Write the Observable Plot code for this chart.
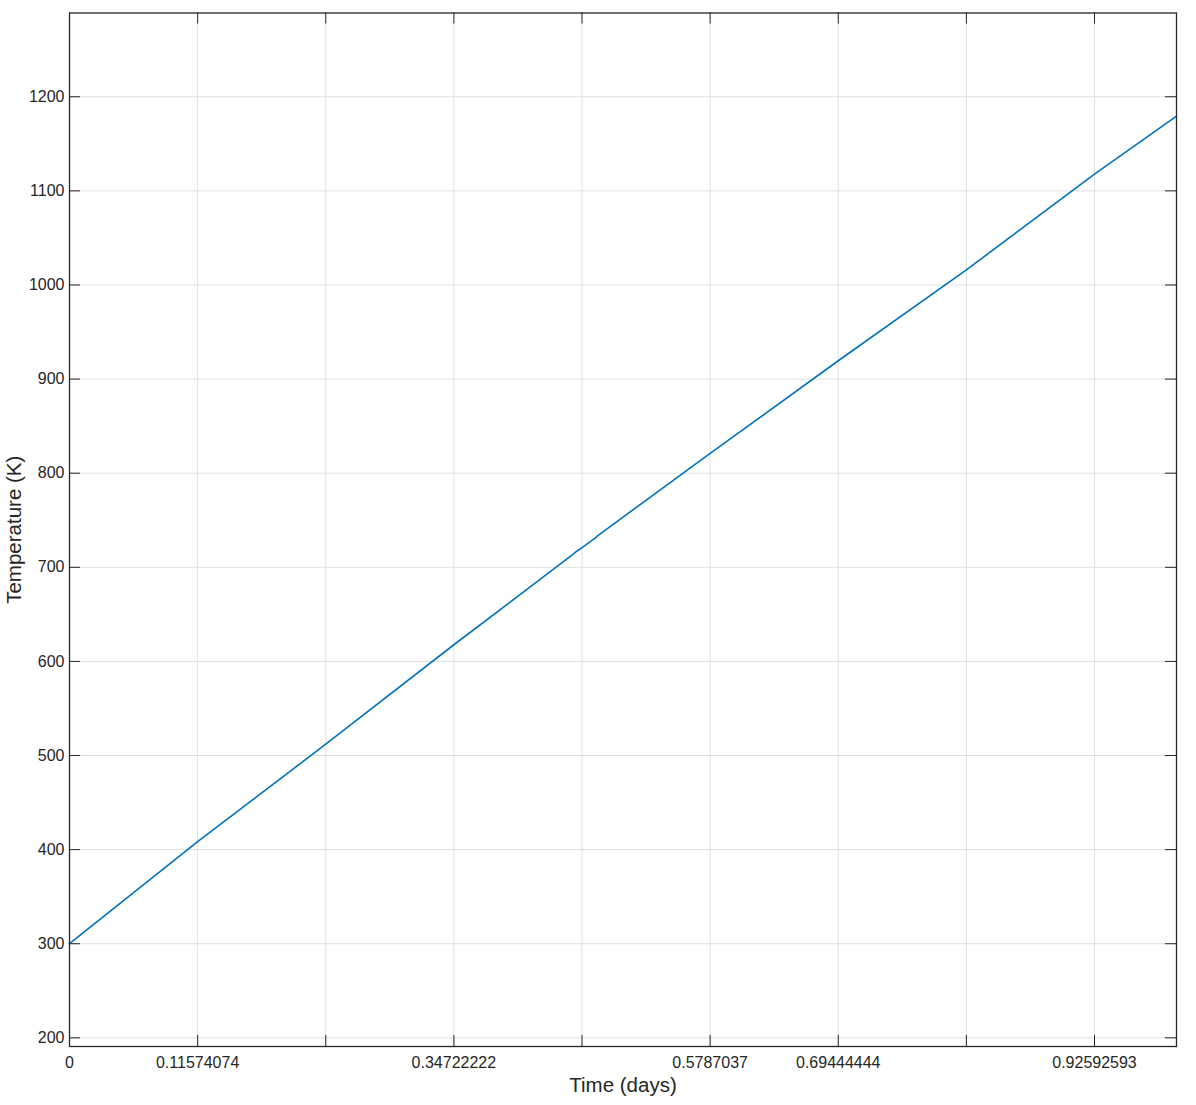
<!DOCTYPE html>
<html>
<head>
<meta charset="utf-8">
<script src="https://cdn.jsdelivr.net/npm/d3@7"></script>
<script src="https://cdn.jsdelivr.net/npm/@observablehq/plot@0.6"></script>
<style>
  html, body { margin: 0; padding: 0; background: #fff; }
  #chart svg { display: block; }
</style>
</head>
<body>
<div id="chart"></div>
<script>
// Time (days) and temperature (K)
const timeDays = [0, 0.11574074, 0.23148148, 0.34722222, 0.4562, 0.4575, 0.4630, 0.4760, 0.4770, 0.5787037, 0.69444444, 0.81018519, 0.92592593, 1.0];
const temperatureK = [300, 408.5, 512, 617.7, 715, 716.5, 721, 732, 733.5, 821, 919.5, 1016, 1117.7, 1179.5];

// Axis ticks
const xTicks = [0, 0.11574074, 0.23148148, 0.34722222, 0.46296296, 0.5787037, 0.69444444, 0.81018519, 0.92592593];
const xTickLabels = ["0", "0.11574074", "", "0.34722222", "", "0.5787037", "0.69444444", "", "0.92592593"];
const yTicks = [200, 300, 400, 500, 600, 700, 800, 900, 1000, 1100, 1200];

const xDomain = [0, 1];
const yDomain = [190.8, 1289];

const data = timeDays.map((t, i) => ({t, v: temperatureK[i]}));

const W = 1196, H = 1105;
const mL = 69, mR = 20, mT = 12.5, mB = 59;
const plotW = W - mL - mR, plotH = H - mT - mB;
const tickLen = 11;
const ink = "#262626";

const chart = Plot.plot({
  width: W,
  height: H,
  marginLeft: mL,
  marginRight: mR,
  marginTop: mT,
  marginBottom: mB,
  style: {fontFamily: "Liberation Sans, Arial, Helvetica, sans-serif", fontSize: "16px", color: ink, background: "#fff"},
  x: {domain: xDomain, label: null},
  y: {domain: yDomain, label: null},
  marks: [
    Plot.gridX(xTicks, {stroke: "#dfdfdf", strokeOpacity: 1}),
    Plot.gridY(yTicks, {stroke: "#dfdfdf", strokeOpacity: 1}),
    Plot.line(data, {x: "t", y: "v", stroke: "#0072BD", strokeWidth: 1.6}),
    // inward ticks on all four sides
    Plot.tickX(xTicks, {x: d => d, stroke: ink, insetTop: plotH - tickLen}),
    Plot.tickX(xTicks, {x: d => d, stroke: ink, insetBottom: plotH - tickLen}),
    Plot.tickY(yTicks, {y: d => d, stroke: ink, insetRight: plotW - tickLen}),
    Plot.tickY(yTicks, {y: d => d, stroke: ink, insetLeft: plotW - tickLen}),
    Plot.axisX(xTicks, {anchor: "bottom", tickSize: 0, tickPadding: 10, fontSize: 16, fill: ink,
      tickFormat: (d) => xTickLabels[xTicks.indexOf(d)], label: null}),
    Plot.axisY(yTicks, {anchor: "left", tickSize: 0, tickPadding: 5, fontSize: 16, fill: ink,
      tickFormat: d => String(d), label: null}),
    Plot.frame({stroke: ink, strokeWidth: 1.3}),
    Plot.text(["Time (days)"], {frameAnchor: "bottom", dy: 39, fontSize: 20.5, fill: ink, textAnchor: "middle", lineAnchor: "middle"}),
    Plot.text(["Temperature (K)"], {frameAnchor: "left", dx: -55, rotate: -90, fontSize: 20.5, fill: ink, textAnchor: "middle", lineAnchor: "middle"})
  ]
});
document.getElementById("chart").appendChild(chart);
</script>
</body>
</html>
